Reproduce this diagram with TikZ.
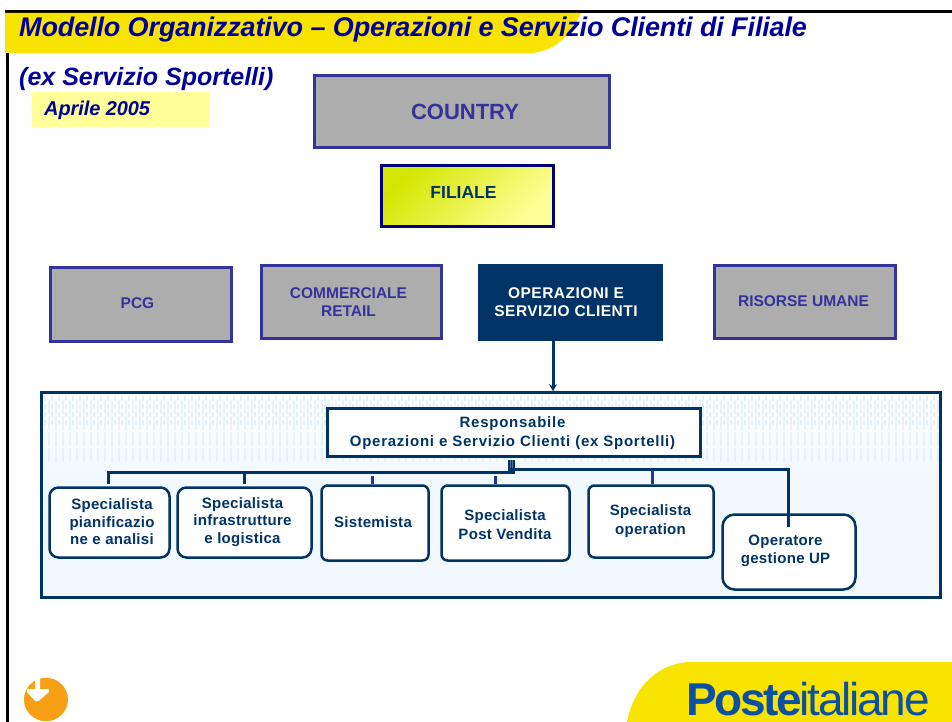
\documentclass[tikz,border=0pt]{standalone}
\usepackage{fontspec}
\setmainfont{Liberation Sans}
\usetikzlibrary{arrows.meta}
\definecolor{frameblue}{HTML}{333399}
\definecolor{navy}{HTML}{000099}
\definecolor{panelline}{HTML}{003366}
\definecolor{greybox}{HTML}{ADADAD}
\definecolor{bandyellow}{HTML}{F9E300}
\definecolor{paleyellow}{HTML}{FFFF99}
\definecolor{limey}{HTML}{D4E600}
\definecolor{panelfill}{HTML}{F1F8FE}
\definecolor{dotblue}{HTML}{E2F0FB}
\definecolor{stubblue}{HTML}{1F33A6}
\definecolor{logoblue}{HTML}{0A50A5}
\definecolor{iconorange}{HTML}{F7A015}
\newcommand{\placed}[4][220pt]{\smash{\raisebox{\dimexpr#3-4.7pt\relax}{\kern#2\makebox[0pt]{\parbox[c]{#1}{\centering #4}}\kern-#2}}}
\tikzset{
  greytop/.style={draw=frameblue,line width=3pt,fill=greybox,text=frameblue,font=\bfseries\fontsize{15.5}{18}\selectfont,inner sep=0pt},
  headbox/.style={draw=panelline,line width=2.5pt,fill=white,text=panelline,font=\bfseries\fontsize{15}{19}\selectfont\addfontfeature{LetterSpace=5},inner sep=0pt},
  rolebox/.style={draw=panelline,line width=2.5pt,fill=white,text=panelline,rounded corners=#1,font=\bfseries\fontsize{15}{17.5}\selectfont\addfontfeature{LetterSpace=2},inner sep=0pt},
  orgline/.style={draw=panelline,line width=3pt},
  stubline/.style={draw=stubblue,line width=3pt},
  titletext/.style={text=navy,font=\bfseries\itshape\fontsize{27}{30}\selectfont,anchor=base west,inner sep=0pt},
}
\begin{document}
\begin{tikzpicture}[x=1pt,y=-1pt]
\useasboundingbox (0,0) rectangle (952,722);
\fill[white] (0,0) rectangle (952,722);
% frame
\fill[black] (5,10) rectangle (952,13);
\fill[black] (6,10) rectangle (9,722);
% title band
\fill[bandyellow] (5,13) -- (581,13) .. controls (570,36) and (556,50) .. (533,53) -- (5,53) -- cycle;
% logo band
\fill[bandyellow] (627,722) .. controls (634,685) and (660,662) .. (692,662) -- (952,662) -- (952,722) -- cycle;
% icon
\fill[iconorange] (46,699.5) circle[x radius=22,y radius=21.7];
\fill[white] (35,678) -- (40,678) -- (40,689) -- (49,689) -- (49,692) -- (38.5,701) -- (35,701) -- (27,692) -- (27,689) -- (35,689) -- cycle;
% titles
\node[titletext] (title) at (19,37) {\addfontfeature{LetterSpace=-0.5}Modello Organizzativo – Operazioni e Servizio Clienti di Filiale};
\node[titletext,font=\bfseries\itshape\fontsize{25}{30}\selectfont] (subtitle) at (19,86) {(ex Servizio Sportelli)};
\node[fill=paleyellow,minimum width=177pt,minimum height=35pt,inner sep=0pt] (dateband) at (120.5,109.5) {};
\node[text=navy,font=\bfseries\itshape\fontsize{20}{24}\selectfont,anchor=base west,inner sep=0pt] (date) at (44,116) {\addfontfeature{LetterSpace=-0.5}Aprile 2005};
% top boxes
\node[greytop,minimum width=295pt,minimum height=72pt,font=\bfseries\fontsize{22}{26}\selectfont] (country) at (461.5,112) {\placed{3.5pt}{0pt}{COUNTRY}};
\node[draw=navy!80!black,line width=3pt,top color=limey,bottom color=paleyellow,shading angle=45,text=panelline,minimum width=172pt,minimum height=60pt,inner sep=0pt,font=\bfseries\fontsize{17.5}{20}\selectfont] (filiale) at (467,196) {\placed{-3.5pt}{4pt}{FILIALE}};
\node[greytop,minimum width=181pt,minimum height=74pt] (pcg) at (140.5,304) {\placed{-3pt}{1.5pt}{PCG}};
\node[greytop,minimum width=180pt,minimum height=73pt] (comm) at (351,301.5) {\placed{-2.5pt}{0.5pt}{COMMERCIALE\\RETAIL}};
\node[greytop,fill=panelline,draw=panelline,text=white,minimum width=182pt,minimum height=74pt,font=\bfseries\fontsize{15.5}{18}\selectfont\addfontfeature{LetterSpace=3}] (oper) at (570,302) {\placed{-4pt}{1pt}{OPERAZIONI E\\SERVIZIO CLIENTI}};
\node[greytop,minimum width=181pt,minimum height=73pt] (risorse) at (804.5,301.5) {\placed{-1pt}{1pt}{RISORSE UMANE}};
% panel
\path[fill=panelfill] (41,392) rectangle (941,598);
\shade[top color=white,bottom color=panelfill] (42,393) rectangle (940,480);
\foreach \xx in {45,52,...,937}{
  \draw[dotblue,line width=2.5pt,dash pattern=on 5pt off 3pt] (\xx,396) -- (\xx,428);
  \draw[dotblue!70!panelfill,line width=2pt,dash pattern=on 14pt off 2pt] (\xx+3.5,400) -- (\xx+3.5,462);
}
\node[draw=panelline,line width=2.5pt,minimum width=899pt,minimum height=205pt,inner sep=0pt] (panel) at (491,495) {};
% org chart
\node[headbox,minimum width=373pt,minimum height=48pt] (resp) at (514,432.5) {\placed[360pt]{-1.5pt}{0pt}{Responsabile\\Operazioni e Servizio Clienti (ex Sportelli)}};
\node[rolebox=9pt,minimum width=120pt,minimum height=70pt] (s1) at (109.5,522.5) {\placed{2.5pt}{1.5pt}{Specialista\\pianificazio\\ne e analisi}};
\node[rolebox=9pt,minimum width=134pt,minimum height=70pt] (s2) at (244.5,522.5) {\placed{-2pt}{1.5pt}{Specialista\\infrastrutture\\e logistica}};
\node[rolebox=6pt,minimum width=107pt,minimum height=75pt] (s3) at (375,523) {\placed{-2pt}{2pt}{Sistemista}};
\node[rolebox=6pt,minimum width=128pt,minimum height=75pt,font=\bfseries\fontsize{15}{19}\selectfont\addfontfeature{LetterSpace=2}] (s4) at (505.5,523) {\placed{-0.5pt}{-0.5pt}{Specialista\\Post Vendita}};
\node[rolebox=6pt,minimum width=125pt,minimum height=72pt,font=\bfseries\fontsize{15}{19}\selectfont\addfontfeature{LetterSpace=2}] (s5) at (651,521.5) {\placed{-0.5pt}{1.5pt}{Specialista\\operation}};
\node[rolebox=12pt,minimum width=133pt,minimum height=75pt,font=\bfseries\fontsize{15}{18}\selectfont\addfontfeature{LetterSpace=2}] (s6) at (789,552) {\placed{-3.5pt}{2pt}{Operatore\\gestione UP}};
% connectors
\coordinate (busL) at (515,472);
\coordinate (busR) at (515,469.5);
\coordinate (j1) at (108,484);
\coordinate (j2) at (244,484);
\coordinate (j3) at (372,476);
\coordinate (j4) at (495.5,476);
\coordinate (j5) at (652,469.5);
\coordinate (j6) at (788,527);
\coordinate (arrowx) at (553,0);
\draw[panelline,line width=3pt,-{Stealth[length=7pt,width=8pt]}] (oper.south -| arrowx) -- (panel.north -| arrowx);
\draw[orgline] (j1) |- (busL);
\draw[orgline] (j2) -- (j2 |- busL);
\draw[orgline] (busR) -| (j6);
\draw[stubline] (j3) -- (j3 |- s3.north);
\draw[stubline] (j4) -- (j4 |- s4.north);
\draw[stubline] (j5) -- (j5 |- s5.north);
\fill[panelline] (508,460) rectangle (515,473.5);
\foreach \xx in {510.3,512.6}{
  \draw[panelline!70!white,line width=0.6pt] (\xx,460) -- (\xx,468);
}
% logo text
\node[text=logoblue,anchor=base west,inner sep=0pt,font=\fontsize{46}{50}\selectfont] (logo) at (686,715) {\addfontfeature{LetterSpace=-5}\textbf{Poste}italiane};
\end{tikzpicture}
\end{document}
